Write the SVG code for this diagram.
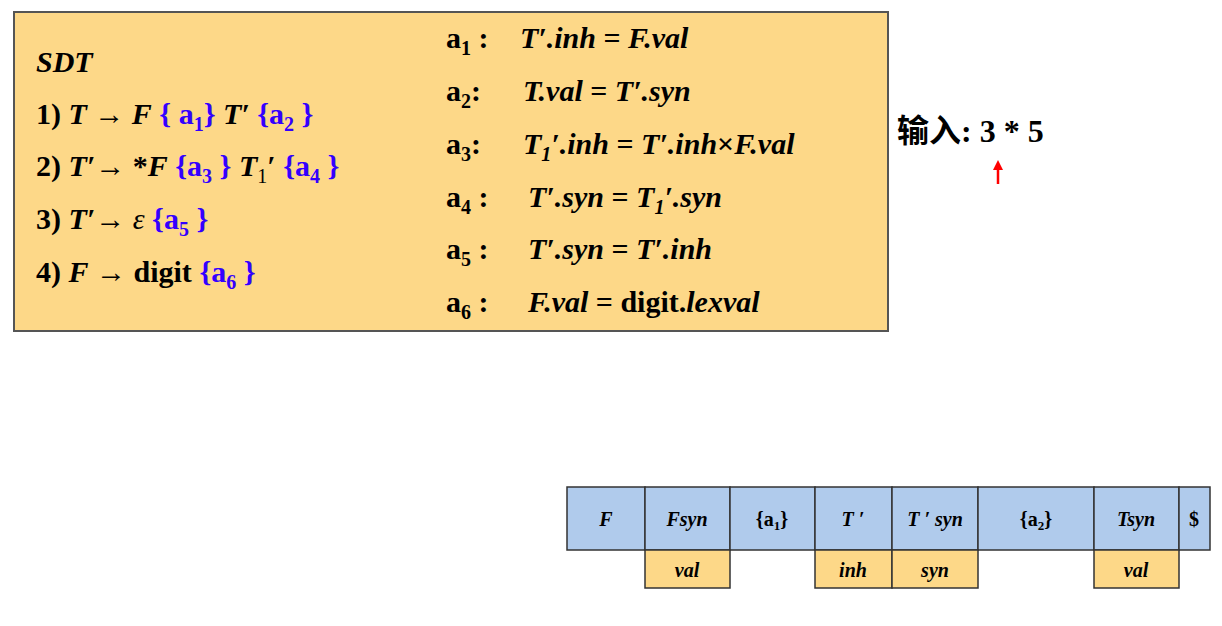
<svg xmlns="http://www.w3.org/2000/svg" width="1222" height="626" viewBox="0 0 1222 626">
<style>
text{font-family:"Liberation Serif","Times New Roman",serif;font-weight:bold;fill:#000}
.m{font-size:30px}
.i{font-style:italic}
.b{fill:#3300ff}
.c{fill:#b0cbec;stroke:#333;stroke-width:1.5}
.o{fill:#fdd888;stroke:#333;stroke-width:1.5}
.t{font-size:20px;text-anchor:middle}
</style>
<rect width="1222" height="626" fill="#fff"/>
<g id="sdt">
<rect x="14" y="12" width="874" height="319" fill="#fdd888" stroke="#555" stroke-width="2"/>
<text class="m i" x="36" y="72">SDT</text>
<text class="m" x="36" y="124">1) <tspan class="i">T</tspan> → <tspan class="i">F</tspan> <tspan class="b">{ a<tspan font-size="20" dy="7">1</tspan><tspan dy="-7">}</tspan></tspan> <tspan class="i">T′</tspan> <tspan class="b">{a<tspan font-size="20" dy="7">2</tspan><tspan dy="-7"> }</tspan></tspan></text>
<text class="m" x="36" y="176">2) <tspan class="i">T′</tspan>→ *<tspan class="i">F</tspan> <tspan class="b">{a<tspan font-size="20" dy="7">3</tspan><tspan dy="-7"> }</tspan></tspan> <tspan class="i">T</tspan><tspan font-size="20" font-weight="normal" dy="7">1</tspan><tspan dy="-7">′</tspan> <tspan class="b">{a<tspan font-size="20" dy="7">4</tspan><tspan dy="-7"> }</tspan></tspan></text>
<text class="m" x="36" y="229">3) <tspan class="i">T′</tspan>→ <tspan class="i" font-weight="normal">ε</tspan> <tspan class="b">{a<tspan font-size="20" dy="7">5</tspan><tspan dy="-7"> }</tspan></tspan></text>
<text class="m" x="36" y="282">4) <tspan class="i">F</tspan> → digit <tspan class="b">{a<tspan font-size="20" dy="7">6</tspan><tspan dy="-7"> }</tspan></tspan></text>
<text class="m" x="446" y="48">a<tspan font-size="20" dy="7">1</tspan><tspan dy="-7"> :  </tspan><tspan x="520" class="i">T′.inh</tspan> = <tspan class="i">F.val</tspan></text>
<text class="m" x="446" y="101">a<tspan font-size="20" dy="7">2</tspan><tspan dy="-7">:</tspan><tspan x="523" class="i">T.val</tspan> = <tspan class="i">T′.syn</tspan></text>
<text class="m" x="446" y="154">a<tspan font-size="20" dy="7">3</tspan><tspan dy="-7">:</tspan><tspan x="523" class="i">T</tspan><tspan class="i" font-size="20" dy="7">1</tspan><tspan class="i" dy="-7">′.inh</tspan> = <tspan class="i">T′.inh</tspan>×<tspan class="i">F.val</tspan></text>
<text class="m" x="446" y="207">a<tspan font-size="20" dy="7">4</tspan><tspan dy="-7"> :</tspan><tspan x="528" class="i">T′.syn</tspan> = <tspan class="i">T</tspan><tspan class="i" font-size="20" dy="7">1</tspan><tspan class="i" dy="-7">′.syn</tspan></text>
<text class="m" x="446" y="259">a<tspan font-size="20" dy="7">5</tspan><tspan dy="-7"> :</tspan><tspan x="528" class="i">T′.syn</tspan> = <tspan class="i">T′.inh</tspan></text>
<text class="m" x="446" y="312">a<tspan font-size="20" dy="7">6</tspan><tspan dy="-7"> :</tspan><tspan x="528" class="i">F.val</tspan> = digit.<tspan class="i">lexval</tspan></text>
</g>
<g id="input">
<text x="897" y="142" font-size="32" style="font-family:'Liberation Serif','Noto Sans CJK SC',serif">输入: 3 * 5</text>
</g>
<g id="connectors">
<line x1="998" y1="184" x2="998" y2="170" stroke="#f00" stroke-width="2.5"/>
<polygon points="993,170 1003,170 998,160" fill="#f00"/>
</g>
<g id="stack">
<rect class="c" x="567" y="487" width="78" height="63"/>
<rect class="c" x="645" y="487" width="85" height="63"/>
<rect class="c" x="730" y="487" width="85" height="63"/>
<rect class="c" x="815" y="487" width="77" height="63"/>
<rect class="c" x="892" y="487" width="86" height="63"/>
<rect class="c" x="978" y="487" width="116" height="63"/>
<rect class="c" x="1094" y="487" width="85" height="63"/>
<rect class="c" x="1179" y="487" width="31" height="63"/>
<rect class="o" x="645" y="550" width="85" height="38"/>
<rect class="o" x="815" y="550" width="77" height="38"/>
<rect class="o" x="892" y="550" width="86" height="38"/>
<rect class="o" x="1094" y="550" width="85" height="38"/>
<text class="t i" x="606" y="526">F</text>
<text class="t i" x="687" y="526">Fsyn</text>
<text class="t" x="772" y="526" font-weight="normal">{a<tspan font-size="13" dy="4">1</tspan><tspan dy="-4">}</tspan></text>
<text class="t i" x="853" y="526">T ′</text>
<text class="t i" x="935" y="526">T ′ syn</text>
<text class="t" x="1036" y="526" font-weight="normal">{a<tspan font-size="13" dy="4">2</tspan><tspan dy="-4">}</tspan></text>
<text class="t i" x="1136" y="526">Tsyn</text>
<text class="t" x="1194" y="526">$</text>
<text class="t i" x="687" y="577">val</text>
<text class="t i" x="853" y="577">inh</text>
<text class="t i" x="935" y="577">syn</text>
<text class="t i" x="1136" y="577">val</text>
</g>
</svg>
